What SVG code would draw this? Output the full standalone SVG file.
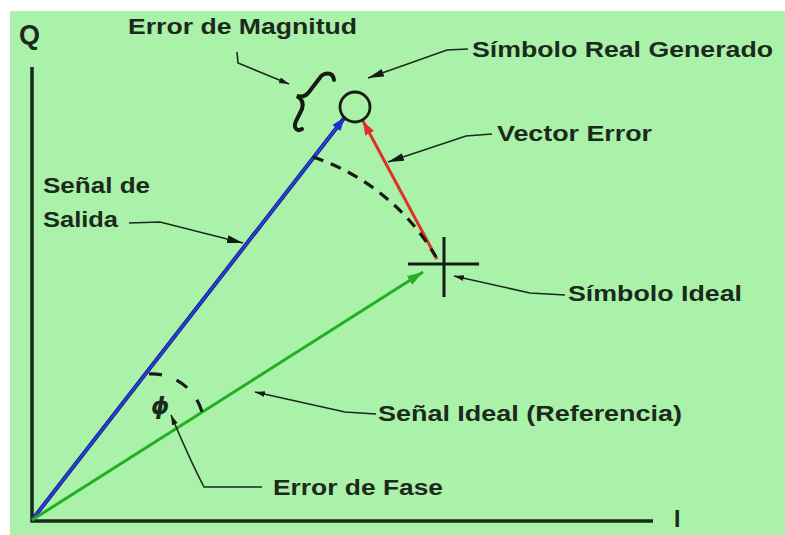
<svg xmlns="http://www.w3.org/2000/svg" width="785" height="535" viewBox="0 0 785 535">
<defs>
<style>
.lbl{font-family:"Liberation Sans",Arial,sans-serif;font-weight:bold;font-size:22px;fill:#1c2a1c}
.lead{fill:none;stroke:#1c2a1c;stroke-width:1.6}
.axis{fill:none;stroke:#1c2a1c;stroke-width:3.5}
.dash{fill:none;stroke:#141c14;stroke-width:3.2;stroke-dasharray:11 8}
</style>
<marker id="ahBlack" markerUnits="userSpaceOnUse" markerWidth="18" markerHeight="10" refX="16" refY="5" orient="auto"><path d="M0,1 L16,5 L0,9 z" fill="#141c14"/></marker>
<marker id="ahBlackS" markerUnits="userSpaceOnUse" markerWidth="12" markerHeight="8" refX="10" refY="4" orient="auto"><path d="M0,1 L10,4 L0,7 z" fill="#141c14"/></marker>
<marker id="ahBlue" markerUnits="userSpaceOnUse" markerWidth="16" markerHeight="12" refX="14" refY="6" orient="auto"><path d="M0,1 L14,6 L0,11 z" fill="#1a2fd0"/></marker>
<marker id="ahRed" markerUnits="userSpaceOnUse" markerWidth="16" markerHeight="12" refX="14" refY="6" orient="auto"><path d="M0,1 L14,6 L0,11 z" fill="#e0302a"/></marker>
<marker id="ahGreen" markerUnits="userSpaceOnUse" markerWidth="18" markerHeight="12" refX="16" refY="6" orient="auto"><path d="M0,1 L16,6 L0,11 z" fill="#22b022"/></marker>
</defs>
<rect x="0" y="0" width="785" height="535" fill="#ffffff"/>
<rect x="10" y="11" width="775" height="524" fill="#aaf2aa"/>

<g id="axes">
<path class="axis" d="M32 67 L32 521 L653 521"/>
<text class="lbl" x="19" y="44" style="font-size:27px">Q</text>
<text class="lbl" x="674" y="527" style="font-size:23px">I</text>
</g>

<g id="vectors">
<line x1="32" y1="520" x2="345" y2="117" stroke="#0e1e80" stroke-width="4"/>
<line x1="32" y1="520" x2="345" y2="117" stroke="#2a40d8" stroke-width="2.2" marker-end="url(#ahBlue)"/>
<line x1="32" y1="520" x2="423" y2="272" stroke="#22b022" stroke-width="3" marker-end="url(#ahGreen)"/>
<line x1="437" y1="259" x2="363" y2="121" stroke="#e0302a" stroke-width="3" marker-end="url(#ahRed)"/>
<path class="dash" d="M313 157 A225 225 0 0 1 436 257"/>
<path class="dash" d="M149 374 A52 52 0 0 1 202 412" style="stroke-dasharray:13 15.5"/>
<text x="151" y="414" style="font-family:'DejaVu Sans',sans-serif;font-style:italic;font-weight:bold;font-size:23px;fill:#1c2a1c">ϕ</text>
</g>

<g id="real-symbol">
<circle cx="355" cy="107" r="15" fill="none" stroke="#141c14" stroke-width="2.8"/>
</g>

<g id="ideal-symbol">
<path d="M408 264 L479 264 M444 237 L444 297" stroke="#141c14" stroke-width="3" fill="none"/>
</g>

<g id="brace">
<path d="M334 80 C333 71 323 72 319 79 L309 92 C306 96 301 97 297 96 C302 99 304 103 302 109 L296 121 C293 128 297 132 302 129" fill="none" stroke="#141c14" stroke-width="4" stroke-linecap="round"/>
</g>

<g id="connectors">
<path class="lead" d="M237 52 L238 63 L289 84" marker-end="url(#ahBlackS)"/>
<path class="lead" d="M468 49 L447 50 L368 78" marker-end="url(#ahBlack)"/>
<path class="lead" d="M492 134 L466 136 L388 162" marker-end="url(#ahBlack)"/>
<path class="lead" d="M129 223 L160 222 L243 243" marker-end="url(#ahBlack)"/>
<path class="lead" d="M565 295 L530 293 L454 276" marker-end="url(#ahBlackS)"/>
<path class="lead" d="M376 414 L345 412 L255 392" marker-end="url(#ahBlackS)"/>
<path class="lead" d="M262 487 L204 487 Q190 460 171 415" marker-end="url(#ahBlackS)"/>
</g>

<g id="labels">
<text class="lbl" x="128" y="34" textLength="229" lengthAdjust="spacingAndGlyphs">Error de Magnitud</text>
<text class="lbl" x="472" y="57" textLength="301" lengthAdjust="spacingAndGlyphs">Símbolo Real Generado</text>
<text class="lbl" x="497" y="141" textLength="155" lengthAdjust="spacingAndGlyphs">Vector Error</text>
<text class="lbl" x="43" y="193" textLength="107" lengthAdjust="spacingAndGlyphs">Señal de</text>
<text class="lbl" x="43" y="227" textLength="75" lengthAdjust="spacingAndGlyphs">Salida</text>
<text class="lbl" x="568" y="301" textLength="174" lengthAdjust="spacingAndGlyphs">Símbolo Ideal</text>
<text class="lbl" x="378" y="421" textLength="304" lengthAdjust="spacingAndGlyphs">Señal Ideal (Referencia)</text>
<text class="lbl" x="273" y="495" textLength="170" lengthAdjust="spacingAndGlyphs">Error de Fase</text>
</g>
</svg>
